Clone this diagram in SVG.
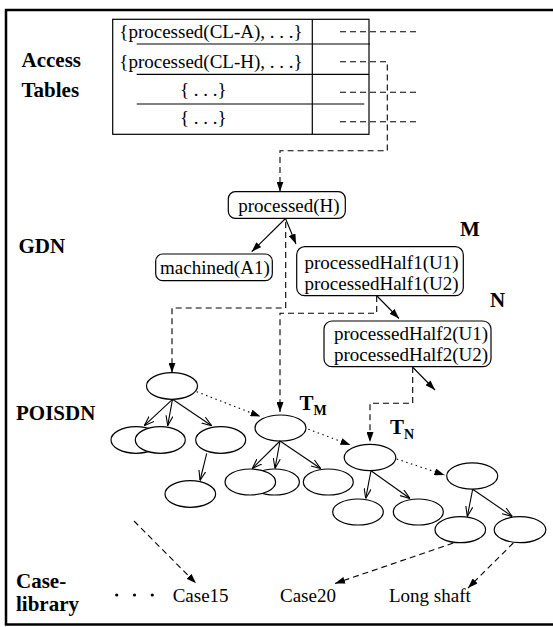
<svg xmlns="http://www.w3.org/2000/svg" width="553" height="627" viewBox="0 0 553 627">
  <style>
    text { font-family: "Liberation Serif", "Times New Roman", serif; fill: #000; }
    .lbl { font-size: 21px; font-weight: bold; }
    .t { font-size: 19px; }
    .box { fill: #fff; stroke: #000; stroke-width: 1.2; }
    .nd { fill: #fff; stroke: #000; stroke-width: 1.2; }
    .ln { fill: none; stroke: #000; stroke-width: 1.2; }
    .dash { fill: none; stroke: #000; stroke-width: 1.1; stroke-dasharray: 6 4; }
    .dot { fill: none; stroke: #000; stroke-width: 1.1; stroke-dasharray: 1.5 3.5; }
    .sol { fill: none; stroke: #000; stroke-width: 1.1; }
    .ah { marker-end: url(#filled); }
    .oh { marker-end: url(#open); }
  </style>
  <defs>
    <marker id="filled" viewBox="0 0 10 7" refX="10" refY="3.5" markerWidth="10" markerHeight="7" markerUnits="userSpaceOnUse" orient="auto">
      <path d="M0,0 L10,3.5 L0,7 z" fill="#000"/>
    </marker>
    <marker id="open" viewBox="0 0 10 8" refX="10" refY="4" markerWidth="10" markerHeight="8" markerUnits="userSpaceOnUse" orient="auto">
      <path d="M0,0.5 L10,4 L0,7.5" fill="none" stroke="#000" stroke-width="1.1"/>
    </marker>
  </defs>

  <!-- frame (right side runs past the canvas edge) -->
  <rect x="6" y="10" width="552" height="614.5" fill="none" stroke="#000" stroke-width="2.5"/>

  <!-- level labels -->
  <g id="labels">
    <text class="lbl" x="21.5" y="66.5">Access</text>
    <text class="lbl" x="21.5" y="96.5">Tables</text>
    <text class="lbl" x="18.5" y="253">GDN</text>
    <text class="lbl" x="16" y="420">POISDN</text>
    <text class="lbl" x="16" y="588">Case-</text>
    <text class="lbl" x="16" y="611">library</text>
  </g>

  <!-- access table -->
  <g id="access-table">
    <rect x="112.7" y="19.3" width="256.3" height="115" fill="none" stroke="#000" stroke-width="1.2"/>
    <line class="ln" x1="312.3" y1="19.3" x2="312.3" y2="134.3"/>
    <line class="ln" x1="136.7" y1="44" x2="370" y2="44"/>
    <line class="ln" x1="136.7" y1="74.3" x2="369" y2="74.3"/>
    <line class="ln" x1="136.7" y1="104" x2="364.3" y2="104"/>
    <text class="t" x="119.3" y="38.3">{processed(CL-A), . . .}</text>
    <text class="t" x="119.3" y="68.3">{processed(CL-H), . . .}</text>
    <text class="t" x="180" y="95.7">{ . . .}</text>
    <text class="t" x="180" y="124">{ . . .}</text>
  </g>

  <!-- goal decomposition network -->
  <g id="gdn-processed-H">
    <rect class="box" x="228.3" y="191.7" width="117" height="26.6" rx="7"/>
    <text class="t" x="238.3" y="212">processed(H)</text>
  </g>
  <g id="gdn-machined-A1">
    <rect class="box" x="155.7" y="254" width="116.6" height="26.7" rx="7"/>
    <text class="t" x="160" y="274">machined(A1)</text>
  </g>
  <g id="gdn-M">
    <rect class="box" x="296.7" y="246.7" width="166.6" height="49" rx="8"/>
    <text class="t" x="304.5" y="268.5">processedHalf1(U1)</text>
    <text class="t" x="304.5" y="290">processedHalf1(U2)</text>
    <text class="lbl" x="460" y="236">M</text>
  </g>
  <g id="gdn-N">
    <rect class="box" x="324" y="321" width="167" height="45.7" rx="8"/>
    <text class="t" x="334" y="339.5">processedHalf2(U1)</text>
    <text class="t" x="334" y="361">processedHalf2(U2)</text>
    <text class="lbl" x="490" y="306.7">N</text>
  </g>

  <!-- POISDN trees -->
  <g id="tree-1">
    <ellipse class="nd" cx="172" cy="386" rx="25.5" ry="13.3"/>
    <ellipse class="nd" cx="136" cy="440" rx="25" ry="13.3"/>
    <ellipse class="nd" cx="160.3" cy="440" rx="25" ry="13.3"/>
    <ellipse class="nd" cx="220.7" cy="440" rx="25" ry="13.3"/>
    <ellipse class="nd" cx="190.3" cy="494" rx="25.3" ry="13.3"/>
  </g>
  <g id="tree-2">
    <ellipse class="nd" cx="280.5" cy="428" rx="25.5" ry="13"/>
    <ellipse class="nd" cx="274.7" cy="482" rx="24.7" ry="13"/>
    <ellipse class="nd" cx="250.3" cy="482" rx="25.3" ry="13"/>
    <ellipse class="nd" cx="328.3" cy="482" rx="25" ry="13"/>
    <text class="lbl" x="299.5" y="410" style="font-size:21px">T<tspan dy="5" style="font-size:14px">M</tspan></text>
  </g>
  <g id="tree-3">
    <ellipse class="nd" cx="370" cy="457.5" rx="25.8" ry="13.2"/>
    <ellipse class="nd" cx="358" cy="512" rx="25.3" ry="13"/>
    <ellipse class="nd" cx="418.3" cy="512" rx="25" ry="13"/>
    <text class="lbl" x="390" y="433.5" style="font-size:21px">T<tspan dy="5.5" style="font-size:14px">N</tspan></text>
  </g>
  <g id="tree-4">
    <ellipse class="nd" cx="472.2" cy="476" rx="25.5" ry="13.2"/>
    <ellipse class="nd" cx="460.3" cy="529.7" rx="25.3" ry="13"/>
    <ellipse class="nd" cx="520" cy="529.7" rx="25.8" ry="13"/>
  </g>

  <!-- case library -->
  <g id="case-library">
    <circle cx="116.7" cy="595" r="1.6"/>
    <circle cx="134.5" cy="595" r="1.6"/>
    <circle cx="152.3" cy="595" r="1.6"/>
    <text class="t" x="172.7" y="601.7">Case15</text>
    <text class="t" x="280" y="601.7">Case20</text>
    <text class="t" x="389" y="601.7">Long shaft</text>
  </g>

  <!-- connectors -->
  <g id="connectors">
    <!-- access table pointers -->
    <line class="dash" x1="340" y1="31.7" x2="420" y2="31.7"/>
    <path class="dash ah" d="M340,61.7 H387.3 V150.7 H280 V191.5"/>
    <line class="dash" x1="340" y1="92.3" x2="420" y2="92.3"/>
    <line class="dash" x1="340" y1="121.7" x2="420" y2="121.7"/>

    <!-- GDN edges -->
    <line class="sol ah" x1="285.5" y1="218.5" x2="251.7" y2="251.7"/>
    <line class="sol ah" x1="285.5" y1="218.5" x2="296" y2="244"/>
    <line class="sol ah" x1="377" y1="296" x2="399" y2="318.5"/>
    <line class="sol ah" x1="413" y1="367.5" x2="435" y2="390"/>

    <!-- GDN to POISDN -->
    <path class="dash ah" d="M285.7,222 V308 H172 V372.7"/>
    <path class="dash ah" d="M376.7,296 V313.3 H280 V412"/>
    <path class="dash ah" d="M412.7,367 V403.3 H370 V442"/>

    <!-- links between trees -->
    <line class="dot ah" x1="196.7" y1="391.7" x2="260.5" y2="416.5"/>
    <line class="dot ah" x1="308.3" y1="429.3" x2="350.5" y2="445"/>
    <line class="dot ah" x1="396.7" y1="459" x2="444.5" y2="475"/>

    <!-- tree edges -->
    <line class="sol oh" x1="172.5" y1="399.3" x2="144.3" y2="425.7"/>
    <line class="sol oh" x1="172.5" y1="399.3" x2="167.7" y2="425.7"/>
    <line class="sol oh" x1="172.5" y1="399.3" x2="211.7" y2="425.7"/>
    <line class="sol oh" x1="206.7" y1="453.3" x2="200" y2="480.5"/>
    <line class="sol oh" x1="280" y1="441" x2="252.3" y2="468.5"/>
    <line class="sol oh" x1="280" y1="441" x2="275" y2="468.5"/>
    <line class="sol oh" x1="280" y1="441" x2="320.7" y2="468.5"/>
    <line class="sol oh" x1="371" y1="470.7" x2="365.7" y2="498.5"/>
    <line class="sol oh" x1="371" y1="470.7" x2="410" y2="498.5"/>
    <line class="sol oh" x1="472.7" y1="489.2" x2="467.3" y2="516.5"/>
    <line class="sol oh" x1="472.7" y1="489.2" x2="512.3" y2="516.5"/>

    <!-- to case library -->
    <line class="dash ah" x1="134" y1="521" x2="196" y2="583.3"/>
    <line class="dash ah" x1="453.3" y1="543" x2="335" y2="583.5"/>
    <line class="dash ah" x1="513.3" y1="543" x2="468" y2="588"/>
  </g>
</svg>
